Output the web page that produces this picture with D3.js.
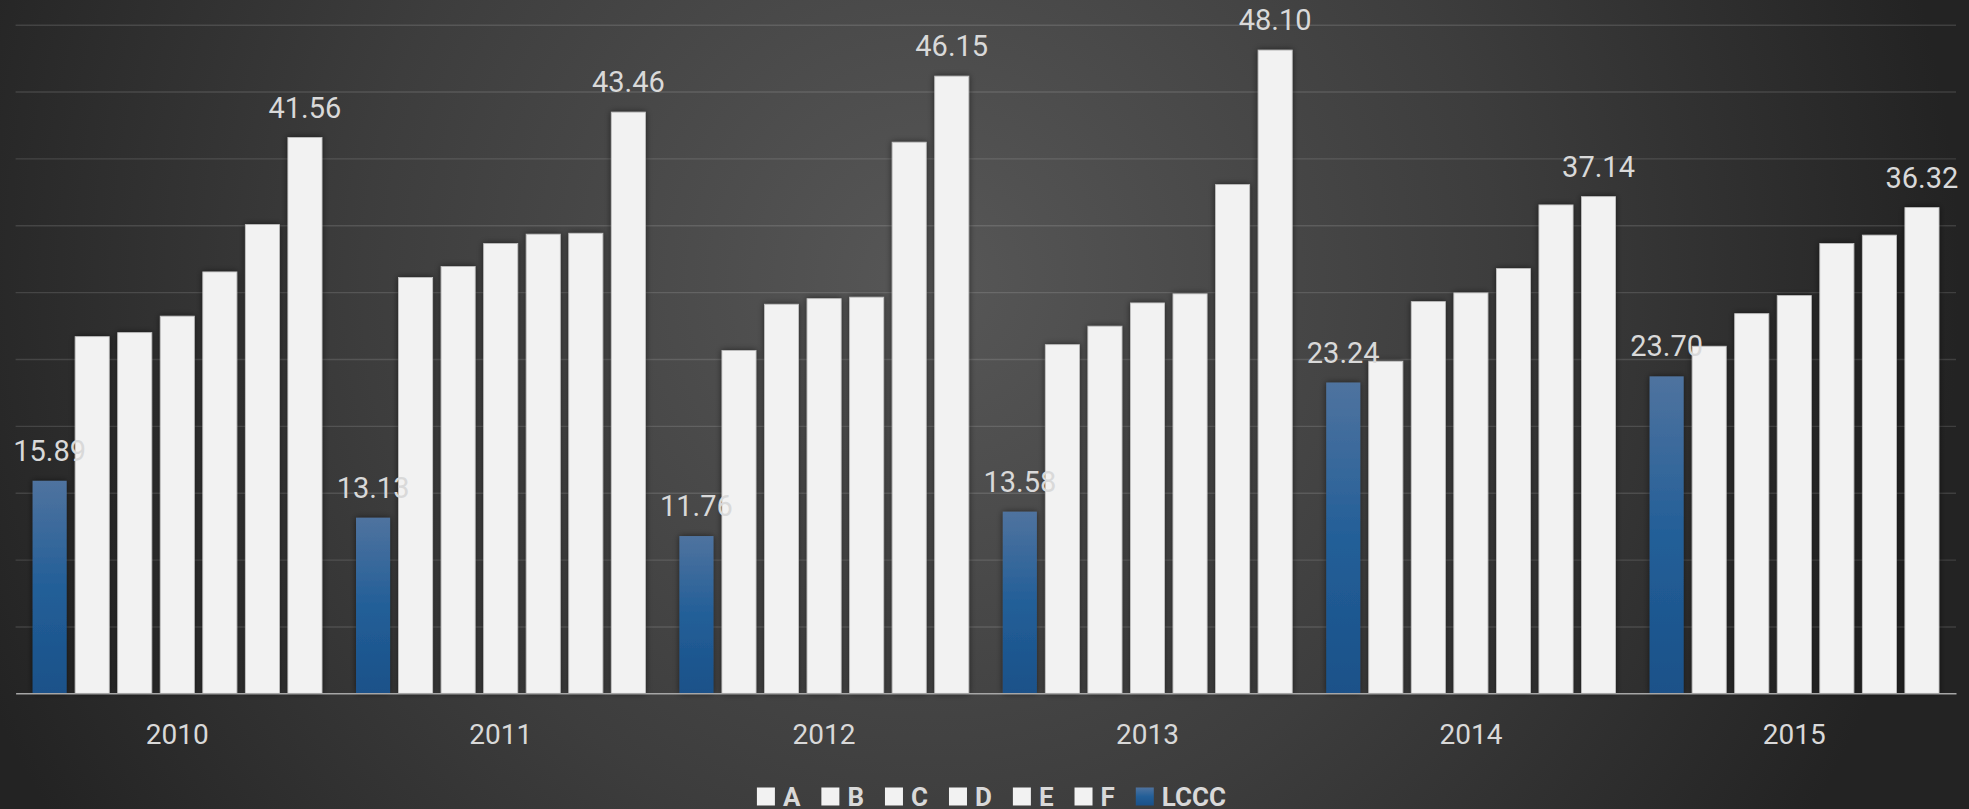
<!DOCTYPE html>
<html>
<head>
<meta charset="utf-8">
<script src="https://cdn.jsdelivr.net/npm/d3@7"></script>
<style>
html,body{margin:0;padding:0;background:#262626;overflow:hidden;}
svg{display:block;}
</style>
</head>
<body>
<svg id="chart" width="1969" height="809"></svg>
<script>
// ---- data ----
const years = ["2010", "2011", "2012", "2013", "2014", "2015"];
const seriesOrder = ["LCCC", "A", "B", "C", "D", "E", "F"];
const legendOrder = ["A", "B", "C", "D", "E", "F", "LCCC"];
const valuesA    = [26.67, 31.09, 25.63, 26.07, 24.83, 25.95];
const valuesB    = [26.97, 31.91, 29.09, 27.45, 29.29, 28.39];
const valuesC    = [28.20, 33.63, 29.51, 29.19, 29.94, 29.74];
const valuesD    = [31.51, 34.33, 29.62, 29.87, 31.76, 33.63];
const valuesE    = [35.05, 34.40, 41.21, 38.04, 36.52, 34.26];
const valuesF    = [41.56, 43.46, 46.15, 48.10, 37.14, 36.32];
const valuesLCCC = [15.89, 13.13, 11.76, 13.58, 23.24, 23.70];
const yTicks = [0, 5, 10, 15, 20, 25, 30, 35, 40, 45, 50];
const labeledSeries = ["LCCC", "F"];

const seriesValues = {A: valuesA, B: valuesB, C: valuesC, D: valuesD, E: valuesE, F: valuesF, LCCC: valuesLCCC};

// ---- layout ----
const W = 1969, H = 809;
const plotLeft = 15.6, plotRight = 1956, plotTop = 24.7, plotBottom = 693.3;

const svg = d3.select("#chart");
const defs = svg.append("defs");

const bg = defs.append("radialGradient").attr("id", "bg")
  .attr("gradientUnits", "userSpaceOnUse")
  .attr("cx", 930).attr("cy", 280).attr("r", 1030);
bg.append("stop").attr("offset", "0").attr("stop-color", "#575757");
bg.append("stop").attr("offset", "0.55").attr("stop-color", "#3d3d3d");
bg.append("stop").attr("offset", "1").attr("stop-color", "#232323");

const blue = defs.append("linearGradient").attr("id", "blueGrad")
  .attr("x1", 0).attr("y1", 0).attr("x2", 0).attr("y2", 1);
blue.append("stop").attr("offset", "0").attr("stop-color", "#4f739f");
blue.append("stop").attr("offset", "0.5").attr("stop-color", "#235f98");
blue.append("stop").attr("offset", "1").attr("stop-color", "#1a5189");

const shadow = defs.append("filter").attr("id", "shadow")
  .attr("x", "-30%").attr("y", "-5%").attr("width", "160%").attr("height", "110%");
shadow.append("feDropShadow").attr("dx", 0).attr("dy", 0)
  .attr("stdDeviation", 3).attr("flood-color", "#000").attr("flood-opacity", 0.55);

svg.append("rect").attr("width", W).attr("height", H).attr("fill", "url(#bg)");

// scales
const x0 = d3.scaleBand().domain(years).range([plotLeft, plotRight]).paddingInner(0).paddingOuter(0);
const x1 = d3.scaleBand().domain(seriesOrder).range([0, x0.bandwidth()]).paddingInner(0.2).paddingOuter(0.4);
const y = d3.scaleLinear().domain([0, 50]).range([plotBottom, plotTop]);

// gridlines
const grid = svg.append("g")
  .attr("transform", `translate(${plotLeft},0)`)
  .call(d3.axisLeft(y).tickValues(yTicks.slice(1)).tickSize(-(plotRight - plotLeft)).tickFormat(""));
grid.select(".domain").remove();
grid.selectAll(".tick line").attr("stroke", "#ffffff").attr("stroke-opacity", 0.13).attr("stroke-width", 1.4);

// bars
const groups = svg.append("g").selectAll("g").data(years).join("g")
  .attr("transform", d => `translate(${x0(d)},0)`);

groups.selectAll("rect")
  .data((yr, i) => seriesOrder.map(s => ({s, v: seriesValues[s][i]})))
  .join("rect")
  .attr("x", d => x1(d.s))
  .attr("width", x1.bandwidth())
  .attr("y", d => y(d.v))
  .attr("height", d => y(0) - y(d.v))
  .attr("fill", d => d.s === "LCCC" ? "url(#blueGrad)" : "#f2f2f2")
  .attr("stroke", d => d.s === "LCCC" ? "none" : "#c4c4c4")
  .attr("stroke-width", 0.8)
  .attr("filter", "url(#shadow)");

// baseline
svg.append("g")
  .attr("transform", `translate(0,${plotBottom})`)
  .call(d3.axisBottom(x0).tickSize(0).tickFormat(""))
  .call(g => g.select(".domain").attr("stroke", "#a6a6a6").attr("stroke-width", 1.6))
  .call(g => g.selectAll(".tick").remove());

// data labels
groups.selectAll("text.lbl")
  .data((yr, i) => labeledSeries.map(s => ({s, v: seriesValues[s][i]})))
  .join("text")
  .attr("class", "lbl")
  .attr("x", d => x1(d.s) + x1.bandwidth() / 2)
  .attr("y", d => y(d.v) - 20)
  .attr("text-anchor", "middle")
  .attr("font-family", "Roboto, sans-serif")
  .attr("font-size", 29)
  .attr("fill", "#d9d9d9")
  .text(d => d.v.toFixed(2));

// category labels
svg.append("g").selectAll("text").data(years).join("text")
  .attr("x", d => x0(d) + x0.bandwidth() / 2)
  .attr("y", 744)
  .attr("text-anchor", "middle")
  .attr("font-family", "Roboto, sans-serif")
  .attr("font-size", 28)
  .attr("fill", "#d9d9d9")
  .text(d => d);

// legend
const legend = svg.append("g");
const items = legend.selectAll("g").data(legendOrder).join("g");
items.append("rect")
  .attr("width", 18).attr("height", 18).attr("y", 787.5)
  .attr("fill", d => d === "LCCC" ? "url(#blueGrad)" : "#f2f2f2");
items.append("text")
  .attr("x", 26).attr("y", 805.5)
  .attr("font-family", "Roboto, sans-serif")
  .attr("font-weight", "bold")
  .attr("font-size", 26)
  .attr("fill", "#d9d9d9")
  .text(d => d);
let cx = 0;
const offsets = [];
items.each(function() {
  const tw = d3.select(this).select("text").node().getComputedTextLength();
  offsets.push(cx);
  cx += 26 + tw + 21;
});
const total = cx - 21;
const startX = 991.5 - total / 2;
items.attr("transform", (d, i) => `translate(${startX + offsets[i]},0)`);
</script>
</body>
</html>
